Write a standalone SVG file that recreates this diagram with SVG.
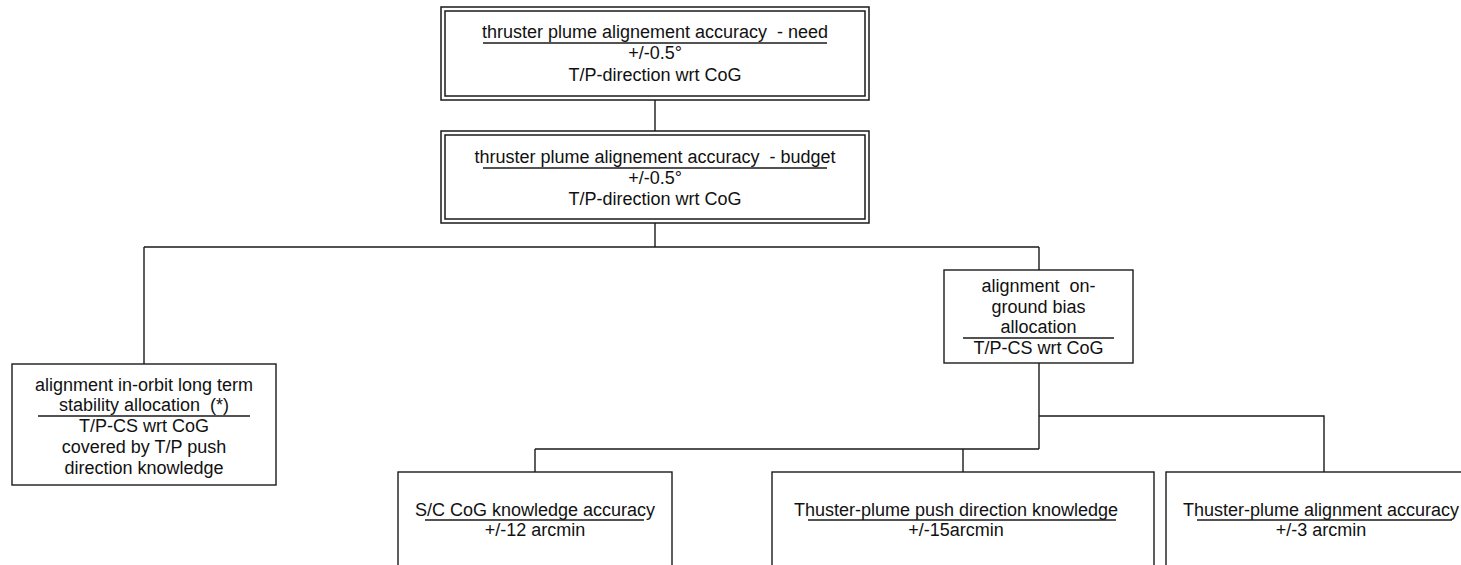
<svg xmlns="http://www.w3.org/2000/svg" width="1461" height="565" viewBox="0 0 1461 565">
<style>
.box{fill:#fff;stroke:#1a1a1a;stroke-width:1.4}
.dbl{fill:none;stroke:#1a1a1a;stroke-width:1.5}
.ul{stroke:#1a1a1a;stroke-width:1.3}
.con{fill:none;stroke:#1a1a1a;stroke-width:1.4}
text{font-family:"Liberation Sans",Arial,sans-serif;font-size:18px;fill:#111;text-anchor:middle;white-space:pre}
</style>
<rect width="1461" height="565" fill="#fff"/>
<g id="connectors">
<path class="con" d="M655,100 V131"/>
<path class="con" d="M655,223 V247 M144,247 H1039 M144,247 V364 M1039,247 V270"/>
<path class="con" d="M1039,363 V449 M535,449 H1039 M535,449 V472 M963,449 V472 M1039,416 H1324 V472"/>
</g>
<g id="need">
<rect class="dbl" x="441" y="7" width="428" height="93"/>
<rect class="dbl" x="445" y="11" width="420" height="85"/>
<text x="655" y="38" xml:space="preserve">thruster plume alignement accuracy  - need</text>
<line class="ul" x1="483" y1="43" x2="827" y2="43"/>
<text x="655" y="59">+/-0.5°</text>
<text x="655" y="81">T/P-direction wrt CoG</text>
</g>
<g id="budget">
<rect class="dbl" x="441" y="131" width="428" height="92"/>
<rect class="dbl" x="445" y="135" width="420" height="84"/>
<text x="655" y="163" xml:space="preserve">thruster plume alignement accuracy  - budget</text>
<line class="ul" x1="483" y1="168" x2="827" y2="168"/>
<text x="655" y="184">+/-0.5°</text>
<text x="655" y="205">T/P-direction wrt CoG</text>
</g>
<g id="inorbit">
<rect class="box" x="12" y="364" width="264" height="121"/>
<text x="144" y="391">alignment in-orbit long term</text>
<text x="144" y="411" xml:space="preserve">stability allocation  (*)</text>
<line class="ul" x1="38" y1="416" x2="250" y2="416"/>
<text x="144" y="432">T/P-CS wrt CoG</text>
<text x="144" y="453">covered by T/P push</text>
<text x="144" y="474">direction knowledge</text>
</g>
<g id="onground">
<rect class="box" x="944" y="270" width="189" height="93"/>
<text x="1038.5" y="292" xml:space="preserve">alignment  on-</text>
<text x="1038.5" y="313">ground bias</text>
<text x="1038.5" y="333">allocation</text>
<line class="ul" x1="963" y1="338" x2="1114" y2="338"/>
<text x="1038.5" y="354">T/P-CS wrt CoG</text>
</g>
<g id="cog">
<rect class="box" x="398" y="472" width="274" height="110"/>
<text x="535" y="516">S/C CoG knowledge accuracy</text>
<line class="ul" x1="425" y1="520" x2="644" y2="520"/>
<text x="535" y="536">+/-12 arcmin</text>
</g>
<g id="push">
<rect class="box" x="772" y="472" width="382" height="110"/>
<text x="956" y="516">Thuster-plume push direction knowledge</text>
<line class="ul" x1="808" y1="520" x2="1116" y2="520"/>
<text x="956" y="536">+/-15arcmin</text>
</g>
<g id="align">
<rect class="box" x="1166" y="472" width="316" height="110"/>
<text x="1321" y="516">Thuster-plume alignment accuracy</text>
<line class="ul" x1="1197" y1="520" x2="1452" y2="520"/>
<text x="1321" y="536">+/-3 arcmin</text>
</g>
</svg>
